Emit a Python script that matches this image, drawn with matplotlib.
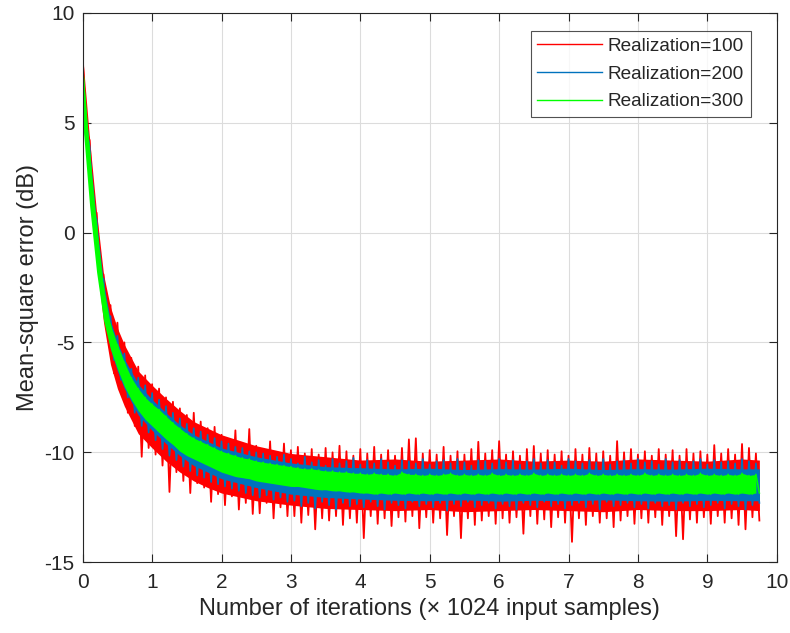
import matplotlib
matplotlib.use("Agg")
import matplotlib.pyplot as plt
import numpy as np

plt.rcParams['font.family'] = ['Liberation Sans', 'DejaVu Sans']

# ---- data (dB) ----
# spike tips: peaks at x = 0.0, 0.1, ..., 9.7 ; troughs at x = 0.05, 0.15, ..., 9.75
x_peak = [round(0.1 * i, 2) for i in range(98)]
x_trough = [round(0.1 * i + 0.05, 2) for i in range(98)]

start_values = {"red": 0.2, "blue": -0.5, "green": 0.0}

red_hi = [8.0, 4.2, 0.9, -1.9, -3.3, -4.1, -5.0, -5.7, -6.1, -6.5,
          -6.9, -7.1, -7.5, -7.7, -8.0, -8.3, -8.2, -8.6, -8.9, -8.84,
          -9.2, -9.4, -9.0, -9.6, -8.94, -9.7, -9.9, -9.5, -10.0, -9.6,
          -9.9, -9.75, -10.05, -9.85, -10.1, -9.8, -10.0, -9.7, -9.95, -10.15,
          -9.85, -10.05, -9.75, -10.1, -9.9, -10.15, -9.8, -9.41, -9.36, -10.05,
          -9.9, -10.1, -9.75, -10.15, -9.95, -10.1, -9.85, -9.52, -10.05, -9.9,
          -9.49, -10.1, -9.95, -10.15, -9.85, -9.71, -10.05, -9.9, -10.1, -9.95,
          -10.15, -9.85, -10.1, -9.8, -10.05, -9.95, -10.15, -9.49, -10.0, -9.85,
          -10.1, -9.95, -10.15, -9.85, -10.1, -9.9, -10.15, -9.85, -10.05, -9.95,
          -10.1, -9.67, -10.05, -9.85, -10.1, -9.62, -9.8, -10.05]
red_lo = [4.6, 0.8, -2.3, -4.6, -6.4, -7.2, -8.2, -8.8, -10.2, -9.8,
          -10.1, -10.6, -11.8, -10.9, -11.3, -11.85, -11.4, -11.6, -12.25, -11.9,
          -12.4, -12.0, -12.6, -12.3, -12.8, -12.77, -12.3, -13.0, -12.5, -12.9,
          -12.9, -13.2, -12.85, -13.5, -13.0, -13.1, -12.9, -13.3, -13.0, -13.2,
          -13.9, -12.9, -13.25, -13.0, -13.35, -12.95, -13.15, -12.9, -13.45, -12.95,
          -13.2, -13.0, -13.76, -12.9, -13.9, -13.0, -13.3, -13.1, -12.9, -13.25,
          -13.0, -13.2, -12.95, -13.7, -12.9, -13.25, -13.05, -13.4, -12.95, -13.2,
          -14.07, -13.0, -13.3, -12.9, -13.2, -13.0, -13.4, -13.1, -12.9, -13.25,
          -13.0, -13.2, -12.95, -13.3, -12.9, -13.81, -13.95, -13.05, -13.2, -12.95,
          -13.25, -12.9, -13.2, -13.0, -13.3, -13.5, -12.95, -13.1]

blue_hi = [7.2, 3.9, 0.6, -2.1, -3.8, -4.7, -5.5, -6.2, -6.6, -6.95,
           -7.3, -7.6, -7.9, -8.2, -8.45, -8.7, -8.9, -9.05, -9.2, -9.35,
           -9.5, -9.6, -9.75, -9.8, -9.95, -10.0, -10.05, -10.15, -10.2, -10.1,
           -10.3, -10.5, -10.2, -10.45, -10.35, -10.6, -10.3, -10.5, -10.4, -10.25,
           -10.55, -10.35, -10.5, -10.3, -10.45, -10.6, -10.35, -10.4, -10.5, -10.3,
           -10.55, -10.4, -10.35, -10.5, -10.3, -10.45, -10.6, -10.35, -10.4, -10.5,
           -10.3, -10.45, -10.35, -10.55, -10.4, -10.3, -10.5, -10.35, -10.45, -10.6,
           -10.3, -10.4, -10.5, -10.35, -10.45, -10.3, -10.55, -10.4, -10.35, -10.5,
           -10.3, -10.45, -10.4, -10.55, -10.3, -10.45, -10.35, -10.5, -10.4, -10.3,
           -10.55, -10.35, -10.45, -10.4, -10.5, -10.3, -10.4, -10.5]
blue_lo = [4.8, 0.9, -2.2, -4.4, -5.8, -6.7, -7.5, -8.2, -8.8, -9.1,
           -9.45, -9.85, -10.15, -10.35, -10.65, -10.85, -11.05, -11.15, -11.35, -11.45,
           -11.55, -11.65, -11.75, -11.85, -11.95, -12.05, -11.95, -12.15, -12.05, -12.25,
           -12.2, -12.45, -12.3, -12.55, -12.25, -12.4, -12.6, -12.3, -12.45, -12.35,
           -12.5, -12.25, -12.45, -12.6, -12.3, -12.4, -12.55, -12.25, -12.45, -12.35,
           -12.5, -12.3, -12.65, -12.35, -12.45, -12.25, -12.5, -12.4, -12.3, -12.55,
           -12.35, -12.45, -12.6, -12.3, -12.4, -12.5, -12.25, -12.45, -12.35, -12.55,
           -12.4, -12.3, -12.5, -12.35, -12.6, -12.25, -12.45, -12.4, -12.3, -12.5,
           -12.35, -12.55, -12.3, -12.45, -12.4, -12.6, -12.3, -12.45, -12.35, -12.5,
           -12.4, -12.3, -12.55, -12.35, -12.45, -12.6, -12.4, -12.3]

green_hi = [7.6, 3.6, 0.3, -2.5, -4.2, -5.1, -5.9, -6.6, -7.1, -7.5,
            -7.8, -8.05, -8.35, -8.65, -8.9, -9.15, -9.35, -9.5, -9.65, -9.8,
            -9.95, -10.05, -10.15, -10.25, -10.3, -10.4, -10.45, -10.5, -10.55, -10.6,
            -10.65, -10.7, -10.75, -10.75, -10.8, -10.85, -10.85, -10.9, -10.9, -10.95,
            -10.95, -11.0, -10.95, -11.0, -11.0, -11.05, -10.9, -11.0, -11.0, -11.05,
            -11.0, -11.05, -11.0, -10.95, -11.05, -11.0, -11.05, -11.0, -11.05, -10.95,
            -11.05, -11.0, -11.05, -11.0, -11.05, -10.95, -11.05, -11.0, -11.05, -11.0,
            -11.05, -11.0, -11.05, -10.95, -11.05, -11.0, -11.05, -11.0, -11.05, -11.0,
            -11.05, -10.95, -11.05, -11.0, -11.05, -11.0, -11.05, -11.0, -11.05, -10.95,
            -11.05, -11.0, -11.05, -11.0, -11.05, -10.95, -11.05, -11.0]
green_lo = [5.0, 1.2, -1.8, -4.0, -5.3, -6.2, -7.0, -7.6, -8.1, -8.5,
            -8.8, -9.1, -9.4, -9.65, -9.95, -10.15, -10.3, -10.45, -10.6, -10.75,
            -10.9, -11.0, -11.1, -11.15, -11.2, -11.3, -11.35, -11.4, -11.45, -11.5,
            -11.55, -11.55, -11.6, -11.65, -11.7, -11.7, -11.75, -11.75, -11.8, -11.8,
            -11.85, -11.85, -11.9, -11.85, -11.9, -11.85, -11.9, -11.85, -11.9, -11.85,
            -11.9, -11.85, -11.9, -11.85, -11.9, -11.85, -11.9, -11.85, -11.9, -11.85,
            -11.9, -11.85, -11.9, -11.85, -11.9, -11.85, -11.9, -11.85, -11.9, -11.85,
            -11.9, -11.85, -11.9, -11.85, -11.9, -11.85, -11.9, -11.85, -11.9, -11.85,
            -11.9, -11.85, -11.9, -11.85, -11.9, -11.85, -11.9, -11.85, -11.9, -11.85,
            -11.9, -11.85, -11.9, -11.85, -11.9, -11.85, -11.9, -11.85]

# dense core of each band (where the noisy trace covers the area solidly)
x_core = [0.0, 0.1, 0.2, 0.3, 0.4, 0.5, 0.6, 0.8, 1.0, 1.2, 1.4, 1.6, 1.8, 2.0,
          2.5, 3.0, 3.5, 4.0, 4.5, 5.0, 5.5, 6.0, 6.5, 7.0, 7.5, 8.0, 8.5, 9.0,
          9.5, 9.75]
red_core_hi = [8.0, 4.2, 0.9, -1.9, -3.4, -4.35, -5.1, -6.3, -6.95, -7.55, -8.1, -8.6,
               -8.9, -9.2, -9.7, -10.05, -10.2, -10.35, -10.3, -10.4, -10.35, -10.3,
               -10.4, -10.35, -10.4, -10.3, -10.35, -10.4, -10.3, -10.35]
red_core_lo = [6.0, 2.0, -1.3, -4.1, -6.0, -7.1, -7.9, -9.15, -9.8, -10.4, -10.9, -11.3,
               -11.6, -11.85, -12.2, -12.4, -12.55, -12.6, -12.65, -12.6, -12.7, -12.65,
               -12.6, -12.65, -12.7, -12.6, -12.65, -12.65, -12.6, -12.65]
blue_core_hi = [7.1, 3.7, 0.45, -2.3, -4.0, -5.0, -5.75, -6.9, -7.6, -8.2, -8.75, -9.2,
                -9.5, -9.8, -10.2, -10.48, -10.65, -10.7, -10.75, -10.72, -10.78, -10.74,
                -10.76, -10.72, -10.78, -10.74, -10.76, -10.72, -10.75, -10.75]
blue_core_lo = [5.0, 2.6, -0.7, -3.5, -5.3, -6.3, -7.1, -8.3, -9.0, -9.6, -10.15, -10.6,
                -10.9, -11.2, -11.6, -11.9, -12.05, -12.12, -12.18, -12.2, -12.16, -12.22,
                -12.18, -12.2, -12.16, -12.2, -12.22, -12.18, -12.2, -12.2]

labels = ["Realization=100", "Realization=200", "Realization=300"]
colors = ["#FF0000", "#0072BD", "#00FF00"]

x_ticks = list(range(0, 11))
y_ticks = [-15, -10, -5, 0, 5, 10]


def series(start, hi, lo):
    xs = [0.0]
    ys = [start]
    for xp, h, xt, l in zip(x_peak, hi, x_trough, lo):
        xs += [xp, xt]
        ys += [h, l]
    return xs, ys


fig = plt.figure(figsize=(7.9, 6.33), dpi=100)
ax = fig.add_axes([0.1047, 0.1117, 0.8785, 0.8683])

tc = "#262626"
specs = [("red", red_hi, red_lo, (x_core, red_core_hi, red_core_lo), 1.3),
         ("blue", blue_hi, blue_lo, (x_core, blue_core_hi, blue_core_lo), 1.2),
         ("green", green_hi, green_lo, (x_peak, green_hi, green_lo), 1.1)]
for (key, hi, lo, core, lw), lab, col in zip(specs, labels, colors):
    ax.fill_between(core[0], core[1], core[2], color=col, lw=0, zorder=2)
    xs, ys = series(start_values[key], hi, lo)
    ax.plot(xs, ys, color=col, lw=lw, label=lab, zorder=2)

ax.set_xlim(0, 10)
ax.set_ylim(-15, 10)
ax.set_xticks(x_ticks)
ax.set_yticks(y_ticks)
ax.set_xticklabels([str(v) for v in x_ticks])
ax.set_yticklabels([str(v) for v in y_ticks])
ax.grid(True, color="#dcdcdc", lw=0.8)
ax.set_axisbelow(True)
ax.tick_params(direction="in", length=6, width=0.8, colors=tc, labelsize=15,
               top=True, right=True, labelcolor=tc)
ax.tick_params(axis="x", pad=8)
ax.tick_params(axis="y", pad=6)
for s in ax.spines.values():
    s.set_color(tc)
    s.set_linewidth(0.8)

ax.set_xlabel("Number of iterations (\u00d7 1024 input samples)", fontsize=17, color=tc, labelpad=4)
ax.set_ylabel("Mean-square error (dB)", fontsize=17, color=tc, labelpad=4)

leg = ax.legend(loc="upper right", fontsize=13.7, frameon=True, fancybox=False,
                edgecolor=tc, handlelength=3.4, handletextpad=0.3, labelspacing=0.55,
                borderpad=0.35, borderaxespad=0.0, bbox_to_anchor=(0.9625, 0.967))
leg.get_frame().set_linewidth(0.8)
for t in leg.get_texts():
    t.set_color(tc)
for h in leg.get_lines():
    h.set_linewidth(1.0)

fig.savefig("out.png", dpi=100)
